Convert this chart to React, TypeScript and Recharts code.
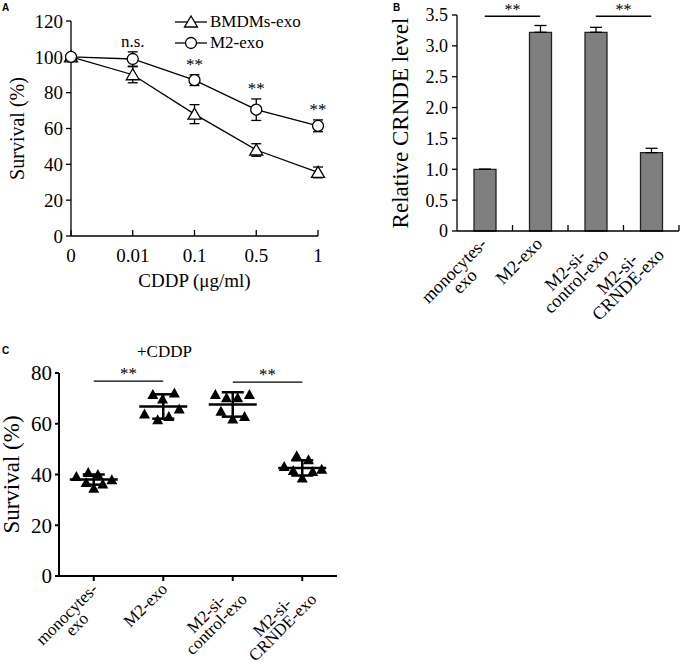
import React from "react";
import {
  LineChart,
  Line,
  XAxis,
  YAxis,
  ErrorBar,
  LabelList,
  Legend,
  BarChart,
  Bar,
  ReferenceLine,
  ScatterChart,
  Scatter,
} from "recharts";

const FONT = "'Liberation Serif', 'Times New Roman', serif";

// panel A: survival vs CDDP dose
const doses = ["0", "0.01", "0.1", "0.5", "1"];
const bmdms = [100, 90, 68, 48, 35.5];
const bmdmsErr = [0, 4.5, 5.3, 3.5, 3];
const m2 = [100, 98.8, 87, 70.5, 61.5];
const m2Err = [0, 4, 3, 6, 3.3];
const sigA = ["", "n.s.", "**", "**", "**"];

// panel B: relative CRNDE level
const groups = ["monocytes-exo", "M2-exo", "M2-si-control-exo", "M2-si-CRNDE-exo"];
const groupLines = [["monocytes-", "exo"], ["M2-exo"], ["M2-si-", "control-exo"], ["M2-si-", "CRNDE-exo"]];
const crnde = [1.0, 3.22, 3.22, 1.27];
const crndeErr = [0, 0.11, 0.08, 0.07];

// panel C: survival with CDDP, single wells
const survMono = [39.2, 40.8, 40.0, 37.9, 36.8, 34.6, 36.3];
const survM2 = [71.5, 72.1, 69.8, 63.8, 61.6, 62.9, 65.8];
const survCtrl = [71.5, 70.2, 70.2, 71.5, 64.9, 61.9, 62.9];
const survCrnde = [43.2, 47.4, 45.8, 42.1, 41.6, 38.6, 41.2];
const jitter = [
  [-0.25, -0.08, 0.06, 0.26, -0.11, 0, 0.13],
  [-0.15, 0.16, -0.01, -0.27, -0.08, 0.08, 0.23],
  [-0.25, -0.09, 0.07, 0.24, -0.17, 0, 0.17],
  [-0.26, -0.08, 0.09, 0.28, -0.13, 0, 0.15],
];
const survMean = [38.0, 66.8, 67.6, 42.6];
const survSd = [2.0, 4.8, 4.8, 3.0];

const dataA = doses.map((d, i) => ({
  x: i,
  bmdms: bmdms[i],
  bmdmsErr: bmdmsErr[i],
  m2: m2[i],
  m2Err: m2Err[i],
  sigY: m2[i] + m2Err[i],
  sig: sigA[i],
}));

const dataB = groups.map((g, i) => ({ name: g, level: crnde[i], err: [0, crndeErr[i]] }));

const survC = [survMono, survM2, survCtrl, survCrnde];
const pointsC = survC.flatMap((vals, g) => vals.map((v, j) => ({ x: g + jitter[g][j], y: v })));
const meansC = survMean.map((m, g) => ({ x: g, y: m, sd: survSd[g] }));

let ctx: CanvasRenderingContext2D | null = null;
function textWidth(s: string, size: number) {
  if (!ctx) ctx = document.createElement("canvas").getContext("2d");
  if (!ctx) return s.length * size * 0.45;
  ctx.font = `${size}px "Liberation Serif"`;
  return ctx.measureText(s).width;
}

function RotatedLabel({ x, y, lines, size }: { x: number; y: number; lines: string[]; size: number }) {
  const w = Math.max(...lines.map((l) => textWidth(l, size)));
  return (
    <g transform={`translate(${x},${y}) rotate(-45)`}>
      {lines.map((l, i) => (
        <text key={i} x={-w / 2} y={i * size * 0.85} textAnchor="middle" fontSize={size} fontFamily={FONT} fill="#000">
          {l}
        </text>
      ))}
    </g>
  );
}

const TriangleOpen = (props: any) => {
  const { cx, cy } = props;
  if (cx == null || cy == null) return null;
  return (
    <polygon
      points={`${cx},${cy - 6} ${cx - 6.5},${cy + 5} ${cx + 6.5},${cy + 5}`}
      fill="#fff"
      stroke="#000"
      strokeWidth={1.3}
    />
  );
};

const CircleOpen = (props: any) => {
  const { cx, cy } = props;
  if (cx == null || cy == null) return null;
  return <circle cx={cx} cy={cy} r={5.5} fill="#fff" stroke="#000" strokeWidth={1.3} />;
};

function LegendA() {
  const items = [
    { name: "BMDMs-exo", tri: true },
    { name: "M2-exo", tri: false },
  ];
  return (
    <div style={{ fontFamily: FONT, fontSize: 17, color: "#000", lineHeight: "21px" }}>
      {items.map((it) => (
        <div key={it.name} style={{ display: "flex", alignItems: "center", height: 21 }}>
          <svg width={32} height={16}>
            <line x1={0} y1={8} x2={32} y2={8} stroke="#000" strokeWidth={1.3} />
            {it.tri ? <TriangleOpen cx={16} cy={8} /> : <CircleOpen cx={16} cy={8} />}
          </svg>
          <span style={{ marginLeft: 3 }}>{it.name}</span>
        </div>
      ))}
    </div>
  );
}

const tickStyle = (size: number) => ({ fill: "#000", fontSize: size, fontFamily: FONT });

function PanelA() {
  return (
    <LineChart width={340} height={300} data={dataA} margin={{ top: 21, right: 22, bottom: 0, left: 0 }}>
      <XAxis
        dataKey="x"
        type="number"
        domain={[0, 4]}
        ticks={[0, 1, 2, 3, 4]}
        tickFormatter={(v) => doses[v]}
        height={64}
        stroke="#000"
        strokeWidth={1.3}
        tickSize={-6}
        tickMargin={19}
        tick={tickStyle(19)}
        label={{ value: "CDDP (μg/ml)", position: "insideBottom", offset: 13, fill: "#000", fontSize: 19, fontFamily: FONT }}
      />
      <YAxis
        domain={[0, 120]}
        ticks={[0, 20, 40, 60, 80, 100, 120]}
        width={71}
        stroke="#000"
        strokeWidth={1.3}
        tickSize={5}
        tickMargin={3}
        tick={tickStyle(19)}
        label={{
          value: "Survival (%)",
          angle: -90,
          position: "insideLeft",
          offset: 17,
          fill: "#000",
          fontSize: 20,
          fontFamily: FONT,
          style: { textAnchor: "middle" },
        }}
      />
      <Legend
        layout="horizontal"
        verticalAlign="middle"
        align="center"
        content={() => <LegendA />}
        wrapperStyle={{ top: 11, left: 175, width: 160 }}
      />
      <Line
        dataKey="bmdms"
        name="BMDMs-exo"
        stroke="#000"
        strokeWidth={1.3}
        dot={<TriangleOpen />}
        activeDot={false}
        isAnimationActive={false}
      >
        <ErrorBar dataKey="bmdmsErr" width={5} stroke="#000" strokeWidth={1.3} direction="y" />
      </Line>
      <Line
        dataKey="m2"
        name="M2-exo"
        stroke="#000"
        strokeWidth={1.3}
        dot={<CircleOpen />}
        activeDot={false}
        isAnimationActive={false}
      >
        <ErrorBar dataKey="m2Err" width={5} stroke="#000" strokeWidth={1.3} direction="y" />
      </Line>
      <Line dataKey="sigY" stroke="none" dot={false} activeDot={false} legendType="none" isAnimationActive={false}>
        <LabelList dataKey="sig" position="top" offset={5} fill="#000" fontSize={17} fontFamily={FONT} />
      </Line>
    </LineChart>
  );
}

const B_LEFT = 72;
const BAND_B = (297 - B_LEFT - 3) / groups.length;

function BTick(props: any) {
  const { x, y, payload } = props;
  const idx = groups.indexOf(payload.value);
  return (
    <g>
      <line x1={x + BAND_B / 2} x2={x + BAND_B / 2} y1={y} y2={y - 6} stroke="#000" strokeWidth={1.3} />
      <RotatedLabel x={x + 3} y={y + 14} lines={groupLines[idx] || [payload.value]} size={18} />
    </g>
  );
}

function PanelB() {
  return (
    <BarChart width={297} height={340} data={dataB} margin={{ top: 15, right: 3, bottom: 0, left: 0 }}>
      <XAxis
        dataKey="name"
        height={109}
        interval={0}
        tickLine={false}
        tickSize={0}
        tickMargin={0}
        stroke="#000"
        strokeWidth={1.3}
        tick={(p: any) => <BTick {...p} />}
      />
      <YAxis
        domain={[0, 3.5]}
        ticks={[0, 0.5, 1, 1.5, 2, 2.5, 3, 3.5]}
        tickFormatter={(v) => (v === 0 ? "0" : v.toFixed(1))}
        width={B_LEFT}
        stroke="#000"
        strokeWidth={1.3}
        tickSize={5}
        tickMargin={4}
        tick={tickStyle(18)}
        label={{
          value: "Relative CRNDE level",
          angle: -90,
          position: "insideLeft",
          offset: 15,
          fill: "#000",
          fontSize: 23,
          fontFamily: FONT,
          style: { textAnchor: "middle" },
        }}
      />
      <ReferenceLine
        segment={[{ x: groups[0], y: 3.48 }, { x: groups[1], y: 3.48 }]}
        stroke="#000"
        strokeWidth={1.3}
        ifOverflow="visible"
        label={{ value: "**", position: "top", offset: 1, fill: "#000", fontSize: 16, fontFamily: FONT }}
      />
      <ReferenceLine
        segment={[{ x: groups[2], y: 3.48 }, { x: groups[3], y: 3.48 }]}
        stroke="#000"
        strokeWidth={1.3}
        ifOverflow="visible"
        label={{ value: "**", position: "top", offset: 1, fill: "#000", fontSize: 16, fontFamily: FONT }}
      />
      <Bar dataKey="level" fill="#7f7f7f" stroke="#222" strokeWidth={1.3} barSize={22} isAnimationActive={false}>
        <ErrorBar dataKey="err" width={6} stroke="#000" strokeWidth={1.3} direction="y" />
      </Bar>
    </BarChart>
  );
}

function CTick(props: any) {
  const { x, y, payload } = props;
  const idx = Math.round(payload.value);
  return <RotatedLabel x={x + 5} y={y + 9} lines={groupLines[idx] || []} size={17} />;
}

const FilledTriangle = (props: any) => {
  const { cx, cy } = props;
  if (cx == null || cy == null) return null;
  return <polygon points={`${cx},${cy - 5.5} ${cx - 5.5},${cy + 4.5} ${cx + 5.5},${cy + 4.5}`} fill="#000" />;
};

const MeanLine = (props: any) => {
  const { cx, cy } = props;
  if (cx == null || cy == null) return null;
  return <line x1={cx - 24} x2={cx + 24} y1={cy} y2={cy} stroke="#000" strokeWidth={2.5} />;
};

function PanelC() {
  return (
    <ScatterChart width={345} height={327} margin={{ top: 33, right: 8, bottom: 0, left: 0 }}>
      <XAxis
        type="number"
        dataKey="x"
        domain={[-0.5, 3.5]}
        ticks={[0, 1, 2, 3]}
        height={91}
        stroke="#000"
        strokeWidth={2}
        tickSize={5}
        tickMargin={0}
        tick={(p: any) => <CTick {...p} />}
      />
      <YAxis
        type="number"
        dataKey="y"
        domain={[0, 80]}
        ticks={[0, 20, 40, 60, 80]}
        width={59}
        stroke="#000"
        strokeWidth={2}
        tickSize={4}
        tickMargin={3}
        tick={tickStyle(21)}
        label={{
          value: "Survival (%)",
          angle: -90,
          position: "insideLeft",
          offset: 11,
          fill: "#000",
          fontSize: 23,
          fontFamily: FONT,
          style: { textAnchor: "middle" },
        }}
      />
      <ReferenceLine
        segment={[{ x: 0, y: 76.8 }, { x: 1, y: 76.8 }]}
        stroke="#000"
        strokeWidth={1.3}
        ifOverflow="visible"
        label={{ value: "**", position: "top", offset: 2, fill: "#000", fontSize: 17, fontFamily: FONT }}
      />
      <ReferenceLine
        segment={[{ x: 2, y: 76.4 }, { x: 3, y: 76.4 }]}
        stroke="#000"
        strokeWidth={1.3}
        ifOverflow="visible"
        label={{ value: "**", position: "top", offset: 2, fill: "#000", fontSize: 17, fontFamily: FONT }}
      />
      <Scatter data={pointsC} shape={<FilledTriangle />} fill="#000" isAnimationActive={false} />
      <Scatter data={meansC} shape={<MeanLine />} fill="#000" isAnimationActive={false}>
        <ErrorBar dataKey="sd" direction="y" width={11} stroke="#000" strokeWidth={2.5} />
      </Scatter>
    </ScatterChart>
  );
}

const letterStyle: React.CSSProperties = {
  position: "absolute",
  fontFamily: "'Liberation Sans', Arial, sans-serif",
  fontWeight: "bold",
  fontSize: 10,
  color: "#000",
};

export default function App() {
  return (
    <div style={{ position: "absolute", left: 0, top: 0, width: 682, height: 667, background: "#fff" }}>
      <div style={{ position: "absolute", left: 0, top: 0 }}>
        <PanelA />
      </div>
      <div style={{ position: "absolute", left: 385, top: 0 }}>
        <PanelB />
      </div>
      <div style={{ position: "absolute", left: 0, top: 340 }}>
        <PanelC />
      </div>
      <div
        style={{
          position: "absolute",
          left: 137,
          top: 342,
          fontFamily: FONT,
          fontSize: 17,
          color: "#000",
        }}
      >
        +CDDP
      </div>
      <div style={{ ...letterStyle, left: 2, top: 2 }}>A</div>
      <div style={{ ...letterStyle, left: 393, top: 2 }}>B</div>
      <div style={{ ...letterStyle, left: 2, top: 345 }}>C</div>
    </div>
  );
}
